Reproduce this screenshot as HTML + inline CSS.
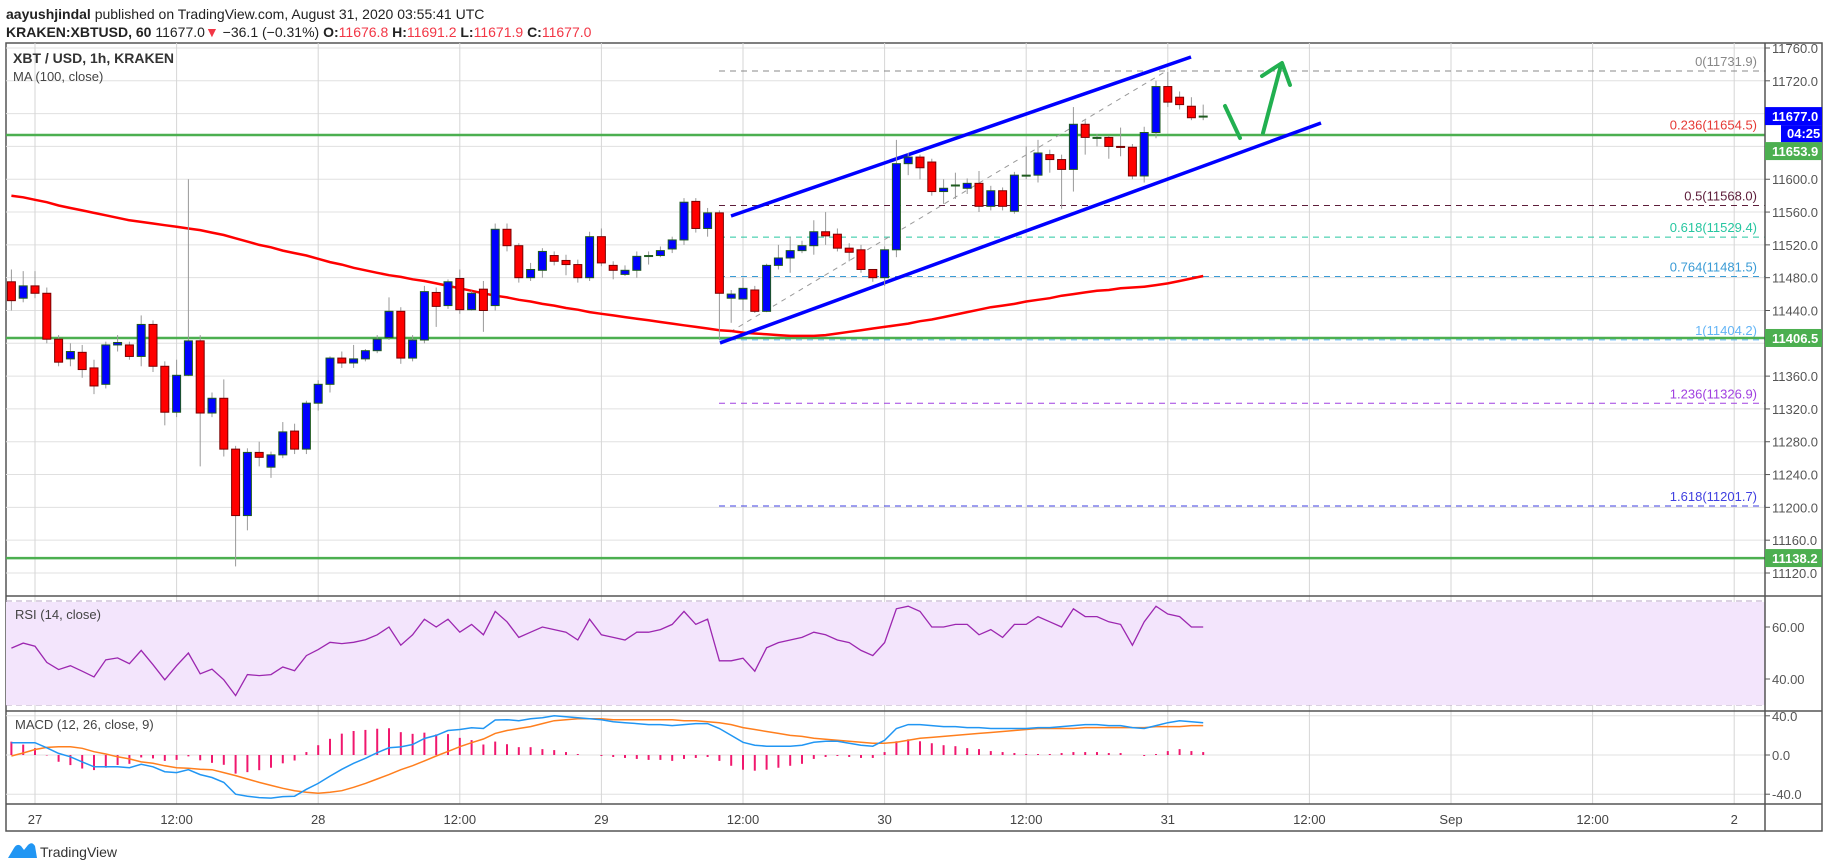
<!DOCTYPE html>
<html><head><meta charset="utf-8">
<style>
html,body{margin:0;padding:0;background:#fff;width:1828px;height:868px;overflow:hidden;font-family:"Liberation Sans",sans-serif;}
svg{position:absolute;left:0;top:0;}
</style></head>
<body>
<svg id="chart" width="1828" height="868" xmlns="http://www.w3.org/2000/svg" font-family="Liberation Sans, sans-serif">
  <text x="6" y="19" font-size="14" fill="#222"><tspan font-weight="bold">aayushjindal</tspan> published on TradingView.com, August 31, 2020 03:55:41 UTC</text>
  <text x="6" y="37" font-size="14" fill="#222"><tspan font-weight="bold">KRAKEN:XBTUSD, 60</tspan> 11677.0<tspan fill="#f23645">▼</tspan> −36.1 (−0.31%) <tspan font-weight="bold">O:</tspan><tspan fill="#f23645">11676.8</tspan> <tspan font-weight="bold">H:</tspan><tspan fill="#f23645">11691.2</tspan> <tspan font-weight="bold">L:</tspan><tspan fill="#f23645">11671.9</tspan> <tspan font-weight="bold">C:</tspan><tspan fill="#f23645">11677.0</tspan></text>
  <rect x="6" y="43" width="1816" height="788" fill="none" stroke="#555" stroke-width="1.5"/>
  <g id="grid"></g>
  <rect x="6" y="602" width="1759" height="103" fill="#f3e5fc"/>
  <g id="overlays"></g>
  <g id="candles"></g>
  <g id="ind"></g>
  <g id="axis"></g>
  <text x="13" y="63" font-size="14" font-weight="bold" fill="#333">XBT / USD, 1h, KRAKEN</text>
  <text x="13" y="81" font-size="13" fill="#444">MA (100, close)</text>
  <text x="15" y="619" font-size="13" fill="#444">RSI (14, close)</text>
  <text x="15" y="729" font-size="13" fill="#444">MACD (12, 26, close, 9)</text>
  <g>
    <path d="M8 858 L14 848 Q17 843 21 846 L24 850 L28 845 Q32 841 35 846 L37 858 Z" fill="#2196f3"/>
    <text x="40" y="857" font-size="14" fill="#333">TradingView</text>
  </g>
</svg>
<script>
const hours=[];for(let h=-2;h<=99;h++)hours.push(h);
const opens=[11475,11455,11470,11461,11405,11381,11389,11370,11350,11398,11398,11384,11423,11372,11316,11361,11403,11315,11333,11271,11190,11267,11249,11264,11293,11271,11327,11350,11382,11376,11381,11391,11407,11439,11382,11404,11462,11446,11479,11441,11466,11446,11539,11519,11480,11489,11507,11501,11496,11480,11530,11495,11484,11489,11506,11507,11515,11526,11573,11540,11559,11455,11454,11465,11439,11495,11504,11513,11519,11536,11533,11516,11514,11490,11480,11514,11619,11627,11621,11585,11592,11589,11595,11567,11586,11561,11604,11605,11630,11624,11612,11667,11651,11651,11640,11639,11604,11657,11713,11700,11689,11677];
const closes=[11452,11470,11461,11405,11377,11390,11368,11348,11398,11401,11384,11423,11372,11316,11361,11403,11315,11333,11271,11190,11267,11261,11264,11292,11271,11327,11350,11382,11376,11381,11391,11405,11439,11382,11404,11463,11445,11475,11441,11461,11440,11539,11519,11480,11490,11512,11500,11496,11480,11530,11498,11489,11489,11506,11507,11513,11526,11572,11540,11559,11461,11460,11467,11439,11495,11504,11513,11519,11536,11531,11516,11511,11490,11480,11514,11619,11627,11614,11585,11589,11593,11595,11567,11586,11567,11605,11605,11632,11624,11612,11667,11651,11651,11640,11639,11604,11657,11713,11694,11691,11675,11677];
const highs=[11490,11488,11488,11468,11410,11400,11398,11380,11402,11410,11402,11434,11428,11378,11380,11600,11410,11340,11356,11275,11272,11280,11268,11304,11302,11330,11355,11384,11390,11398,11393,11410,11456,11444,11410,11470,11468,11478,11490,11464,11476,11546,11546,11522,11498,11516,11512,11508,11502,11536,11540,11500,11495,11512,11512,11518,11530,11577,11577,11565,11562,11465,11480,11470,11497,11520,11530,11525,11550,11560,11540,11522,11520,11490,11518,11648,11632,11630,11625,11600,11608,11601,11610,11592,11590,11609,11640,11648,11636,11630,11688,11672,11655,11653,11663,11643,11664,11720,11731,11707,11700,11691];
const lows=[11440,11450,11455,11400,11372,11372,11358,11338,11345,11390,11380,11372,11365,11300,11310,11360,11250,11310,11262,11128,11172,11250,11236,11260,11265,11265,11318,11340,11370,11370,11378,11388,11404,11375,11378,11400,11420,11442,11436,11440,11414,11440,11512,11474,11476,11480,11495,11483,11474,11476,11494,11478,11482,11480,11496,11505,11510,11520,11535,11530,11404,11425,11440,11437,11438,11490,11486,11510,11508,11520,11512,11500,11486,11475,11470,11505,11605,11600,11580,11570,11576,11582,11560,11562,11562,11558,11600,11596,11608,11564,11585,11630,11640,11625,11628,11600,11596,11650,11688,11685,11672,11672];
const ma100=[11580,11578,11575,11572,11568,11565,11562,11559,11556,11553,11550,11548,11546,11544,11542,11540,11538,11535,11532,11528,11524,11520,11517,11513,11510,11507,11503,11499,11496,11492,11489,11486,11483,11481,11478,11476,11473,11470,11467,11464,11461,11458,11456,11453,11451,11448,11446,11443,11441,11438,11436,11434,11432,11430,11428,11426,11424,11422,11420,11418,11416,11415,11413,11412,11411,11410,11409,11409,11409,11410,11412,11414,11416,11418,11420,11422,11424,11427,11429,11432,11435,11438,11441,11444,11446,11448,11451,11453,11455,11458,11460,11462,11464,11465,11467,11468,11469,11471,11473,11476,11479,11482];
const rsi=[51.9,53.8,52.6,46.4,43.6,45.1,43,40.8,47.4,48.1,45.9,51,45.5,39.7,45.1,50,42,43.8,39.7,33.6,41.7,41.3,41.7,44.6,43.2,49,51.3,54.1,53.6,54.1,55.1,57,60,53,57,63,60,63,58,61,57,66,62,56,58,60,59,58,55,63,57,56,55,58,58,59,61,66,61,63,47,47,48,43,52,54,55,56,58,57,55,54,51,49,54,67,68,66,60,60,61,61,57,59,56,61,61,64,62,60,67,64,64,62,61,53,62,68,65,64,60,60];
const macd=[12.6,12.6,12.6,7.3,1.6,-1.8,-7,-12,-12,-12,-13,-9.5,-12,-17,-18,-15,-20,-23,-28,-40,-42,-43.5,-44,-42.5,-42,-35,-29,-21.5,-14.6,-8.5,-3.4,2.3,7.3,8.3,10.7,16.8,20,25,26,27.8,27,35.7,36,35,37,38,40,39,38,37,36,34,33,32,31,31,30,31,32,32,27,20,13,10,9,9,9,10,13,14,14,12,10,9,15,27,31,31,30,29,29,28,28,27,27,27,27,28,28,29,30,31,31,30,30,28,27,30,33,35,34,33];
const signal=[-1,2,5.6,7.8,8.5,8.5,6.8,3.4,1,-1.8,-4,-7,-8.5,-11,-13,-13.6,-14.6,-15,-18,-21,-24.5,-28,-31,-34,-36.4,-38,-39,-38,-36.4,-33,-29,-24.5,-20,-15,-10.9,-6,-1,3.7,8.5,12.6,16.3,22,25,27,29,32,35,36,37,37,37,36,36,36,36,36,36,35,35,34,33,31,28,26,24,22,20,19,17,16,15,14,13,12,12,13,15,17,18,19,20,21,22,23,24,25,26,27,27,27,27,28,28,28,28,28,28,29,29,29,30,30];
const priceTicks=[11760,11720,11600,11560,11520,11480,11440,11360,11320,11280,11240,11200,11160,11120];
const gridPrices=[11760,11720,11680,11640,11600,11560,11520,11480,11440,11400,11360,11320,11280,11240,11200,11160,11120];
const timeLabels=["27","12:00","28","12:00","29","12:00","30","12:00","31","12:00","Sep","12:00","2"];
const fibLevels=[11731.9,11654.5,11568.0,11529.4,11481.5,11404.2,11326.9,11201.7];
const fibNames=["0","0.236","0.5","0.618","0.764","1","1.236","1.618"];
const fibColors=["#888","#e53935","#5d1d3a","#26c6a0","#3a9bd5","#64b5f6","#a040e0","#3f3fe0"];
const supportLevels=[11653.9,11406.5,11138.2];

const NS="http://www.w3.org/2000/svg";
const X=h=>35+11.8*h;
const Y=p=>48+(11760-p)*0.8203;
const RY=v=>627-(v-60)*2.6;
const MY=v=>755-v*0.98;
const PR=1765;
function mk(tag,attrs,parent){const e=document.createElementNS(NS,tag);for(const k in attrs)e.setAttribute(k,attrs[k]);parent.appendChild(e);return e;}
const grid=document.getElementById('grid'),ov=document.getElementById('overlays'),cg=document.getElementById('candles'),ind=document.getElementById('ind'),ax=document.getElementById('axis');

gridPrices.forEach(p=>{const l=mk('line',{x1:6,x2:PR,y1:Y(p),y2:Y(p),stroke:'#e0e0e0'},grid);

});
[40,0,-40].forEach(v=>{const l=mk('line',{x1:6,x2:PR,y1:MY(v),y2:MY(v),stroke:'#e0e0e0'},grid);

});
timeLabels.forEach((t,i)=>{const x=X(i*12);const l=mk('line',{x1:x,x2:x,y1:43,y2:804,stroke:'#d6d6d6'},grid);


const tx=mk('text',{x:x,y:824,'font-size':13,fill:'#444','text-anchor':'middle'},ax);tx.textContent=t;

});
[596,711,804].forEach(y=>{const l=mk('line',{x1:6,x2:1822,y1:y,y2:y,stroke:'#555','stroke-width':1.5},ax);

});
mk('line',{x1:PR,x2:PR,y1:43,y2:831,stroke:'#555','stroke-width':1.5},ax);
[70,30].forEach(v=>{const l=mk('line',{x1:6,x2:PR,y1:RY(v),y2:RY(v),stroke:'#b9a6c4','stroke-dasharray':'6 4'},grid);

});
[60,40].forEach(v=>{const l=mk('line',{x1:6,x2:PR,y1:RY(v),y2:RY(v),stroke:'#d3c2dc'},grid);

});

fibLevels.forEach((p,i)=>{const l=mk('line',{x1:719,x2:PR,y1:Y(p),y2:Y(p),stroke:fibColors[i],'stroke-dasharray':'6 5'},ov);


const t=mk('text',{x:1757,y:Y(p)-5,'font-size':13,fill:fibColors[i],'text-anchor':'end'},ov);t.textContent=fibNames[i]+'('+p.toFixed(1)+')';

});
supportLevels.forEach(p=>{const l=mk('line',{x1:6,x2:PR,y1:Y(p),y2:Y(p),stroke:'#4caf50','stroke-width':2.5},ov);

});
let tl=mk('line',{x1:730,y1:332,x2:1168,y2:70,stroke:'#999','stroke-dasharray':'5 5'},ov);


let d='';hours.forEach((h,i)=>{d+=(i?'L':'M')+X(h).toFixed(1)+' '+Y(ma100[i]).toFixed(1);});
let ma=mk('path',{d:d,fill:'none',stroke:'#ff0000','stroke-width':2.5},ov);



hours.forEach((h,i)=>{const o=opens[i],c=closes[i],up=c>=o,x=X(h);
const g=mk('g',{},cg);


mk('line',{x1:x,x2:x,y1:Y(highs[i]),y2:Y(lows[i]),stroke:'#999'},g);
const top=Y(Math.max(o,c)),bot=Y(Math.min(o,c));
mk('rect',{x:x-4,y:top,width:8,height:Math.max(1,bot-top),fill:up?'#0000ff':'#ff0000',stroke:up?'#1e5a1e':'#7a0000','stroke-width':1},g);});

let ch1=mk('line',{x1:731,y1:216,x2:1191,y2:57,stroke:'#0000ff','stroke-width':3.5},ov);


let ch2=mk('line',{x1:720,y1:343,x2:1321,y2:123,stroke:'#0000ff','stroke-width':3.5},ov);


let ar=mk('path',{d:'M1225 106 L1240 138 M1263 133 L1281 65 M1262 76 L1282 63 L1290 85',fill:'none',stroke:'#22b050','stroke-width':4,'stroke-linecap':'round','stroke-linejoin':'round'},ov);



d='';hours.forEach((h,i)=>{d+=(i?'L':'M')+X(h).toFixed(1)+' '+RY(rsi[i]).toFixed(1);});
let rl=mk('path',{d:d,fill:'none',stroke:'#9c27b0','stroke-width':1.3},ind);


hours.forEach((h,i)=>{const v=macd[i]-signal[i];const b=mk('line',{x1:X(h),x2:X(h),y1:MY(0),y2:MY(v),stroke:'#f0186e','stroke-width':2},ind);

});
d='';hours.forEach((h,i)=>{d+=(i?'L':'M')+X(h).toFixed(1)+' '+MY(signal[i]).toFixed(1);});
let sl=mk('path',{d:d,fill:'none',stroke:'#ff7f1e','stroke-width':1.5},ind);


d='';hours.forEach((h,i)=>{d+=(i?'L':'M')+X(h).toFixed(1)+' '+MY(macd[i]).toFixed(1);});
let ml=mk('path',{d:d,fill:'none',stroke:'#2196f3','stroke-width':1.5},ind);



function tick(y,label,name){mk('line',{x1:PR,x2:PR+5,y1:y,y2:y,stroke:'#555'},ax);
const t=mk('text',{x:1772,y:y+5,'font-size':13,fill:'#555'},ax);t.textContent=label;

}
priceTicks.forEach(p=>tick(Y(p),p.toFixed(1),'price-tick-label'));
[60,40].forEach(v=>tick(RY(v),v.toFixed(2),'rsi-tick-label'));
[40,0,-40].forEach(v=>tick(MY(v),v.toFixed(1),'macd-tick-label'));
function badge(p,label,col,dy){const y=Y(p)+dy;const r=mk('rect',{x:PR,y:y-9,width:57,height:18,fill:col},ax);


const t=mk('text',{x:1772,y:y+5,'font-size':13,'font-weight':'bold',fill:'#fff'},ax);t.textContent=label;

}
const last=closes[closes.length-1];
badge(last,last.toFixed(1),'#0000ff',0);
badge(supportLevels[0],supportLevels[0].toFixed(1),'#4caf50',Y(last)+35-Y(supportLevels[0]));
badge(supportLevels[1],supportLevels[1].toFixed(1),'#4caf50',0);
badge(supportLevels[2],supportLevels[2].toFixed(1),'#4caf50',0);
const cd=mk('rect',{x:1781,y:Y(last)+9,width:41,height:17,fill:'#0000ff'},ax);


const ct=mk('text',{x:1787,y:Y(last)+22,'font-size':13,'font-weight':'bold',fill:'#fff'},ax);ct.textContent='04:25';


</script>
</body></html>
